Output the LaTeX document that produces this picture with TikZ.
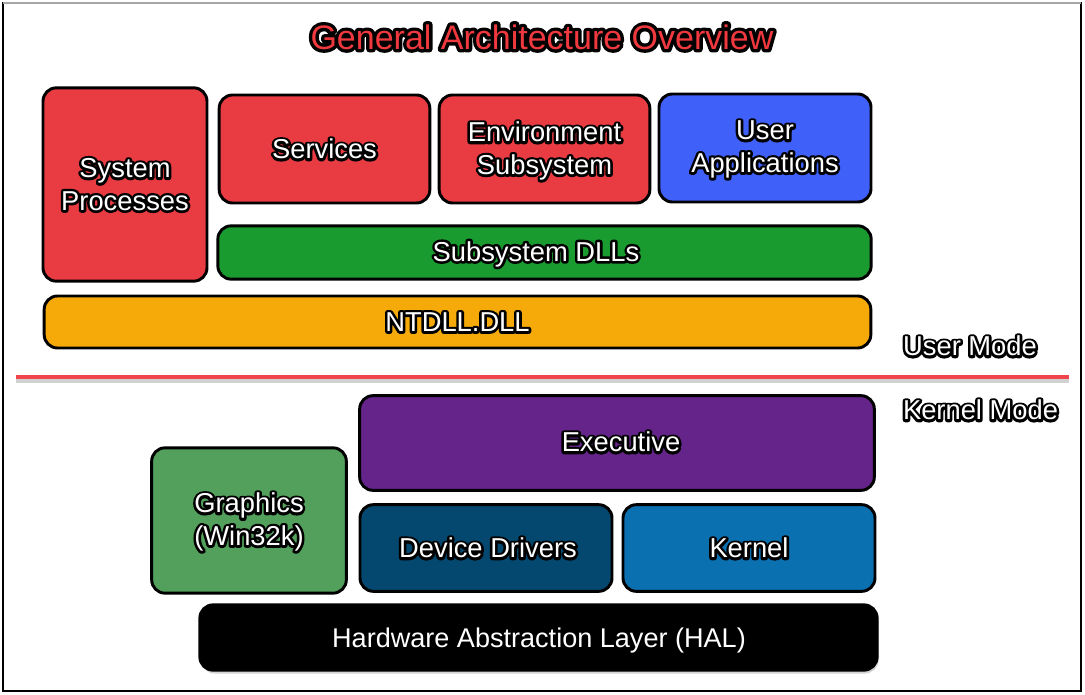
\documentclass[tikz,border=0pt]{standalone}
\usepackage{fontspec}
\setmainfont{Liberation Sans}
\usetikzlibrary{shadows}
\definecolor{cRed}{RGB}{233,59,66}
\definecolor{cBlue}{RGB}{64,96,250}
\definecolor{cGreen}{RGB}{26,155,47}
\definecolor{cOrange}{RGB}{246,170,10}
\definecolor{cPurple}{RGB}{100,36,138}
\definecolor{cGfx}{RGB}{82,160,92}
\definecolor{cDD}{RGB}{4,72,112}
\definecolor{cKern}{RGB}{10,112,176}
\definecolor{cTitle}{RGB}{240,57,63}
\definecolor{cLine}{RGB}{240,69,74}
% outlined text: black stroked copy under the filled copy
\newcommand\olw[2]{\leavevmode\rlap{\special{pdf:literal 1 Tr #1 w 1 j 1 J}{\color{black}#2}\special{pdf:literal 0 Tr 1 w 0 j 0 J}}#2}
\newcommand\ol[1]{\olw{3.8}{#1}}
\begin{document}
\begin{tikzpicture}[x=0.75pt,y=-0.75pt,
  box/.style={draw=black, line width=2.2pt, rounded corners=10pt, inner sep=0pt,
    text=white, align=center, font=\fontsize{20.5}{24.5}\selectfont},
  lbl/.style={text=white, align=center, inner sep=0pt, font=\fontsize{20.5}{24.5}\selectfont}]
\useasboundingbox (0,0) rectangle (1085,695);
% outer frame
\draw[black, line width=2.2pt] (3,3) rectangle (1081,691);
\draw[gray!70, line width=1.6pt] (3,3) -- (1081,3);
% title
\node[text=cTitle, inner sep=0pt, font=\fontsize{25.5}{28}\selectfont] (title) at (542,37)
  {\olw{5}{General Architecture Overview}};
% user mode boxes
\node[box, fill=cRed, minimum width=123pt, minimum height=145pt] (sp) at (125,184.5)
  {\ol{System}\\\ol{Processes}};
\node[box, fill=cRed, minimum width=158pt, minimum height=81pt] (svc) at (324.5,149) {\ol{Services}};
\node[box, fill=cRed, minimum width=158pt, minimum height=81pt] (env) at (544.5,149) {};
\node[lbl] (envt) at (544.5,151) {\ol{Environment}\\\ol{Subsystem}};
\node[box, fill=cBlue, minimum width=159pt, minimum height=81pt] (ua) at (765,148) {};
\node[lbl] (uat) at (765,149.5) {\ol{User}\\\ol{Applications}};
\node[box, fill=cGreen, minimum width=490pt, minimum height=40pt] (dlls) at (544.5,252.5) {};
\node[lbl] (dllst) at (536,254) {\ol{Subsystem DLLs}};
\node[box, fill=cOrange, minimum width=620pt, minimum height=39pt] (ntdll) at (457.5,322) {\ol{NTDLL.DLL}};
% mode labels
\node[lbl] (um) at (970,346) {\ol{User Mode}};
\node[lbl] (km) at (980.5,410) {\ol{Kernel Mode}};
% separator line
\coordinate (sepL) at (16,377);
\coordinate (sepR) at (1069,377);
\draw[black!30, line width=3pt, opacity=0.6] ([yshift=-3pt]sepL) -- ([yshift=-3pt]sepR);
\draw[cLine, line width=3pt] (sepL) -- (sepR);
% kernel mode boxes
\node[box, fill=cPurple, minimum width=386pt, minimum height=71pt] (exec) at (617,443) {};
\node[lbl] (exect) at (621,442) {\ol{Executive}};
\node[box, fill=cGfx, minimum width=146pt, minimum height=109pt] (gfx) at (249,520.5) {};
\node[lbl] (gfxt) at (249,522) {\ol{Graphics}\\\ol{(Win32k)}};
\node[box, fill=cDD, minimum width=189pt, minimum height=65pt] (dd) at (486,548) {};
\node[lbl] (ddt) at (488,548) {\ol{Device Drivers}};
\node[box, fill=cKern, minimum width=189pt, minimum height=65pt] (kern) at (749,548) {\ol{Kernel}};
\node[box, fill=black, minimum width=508pt, minimum height=49pt,
  drop shadow={opacity=0.35, shadow xshift=1pt, shadow yshift=-2.5pt}] (hal) at (538.5,637.5) {};
\node[lbl, font=\fontsize{20.3}{24}\selectfont] (halt) at (539,640.5) {Hardware Abstraction Layer (HAL)};
\end{tikzpicture}
\end{document}
